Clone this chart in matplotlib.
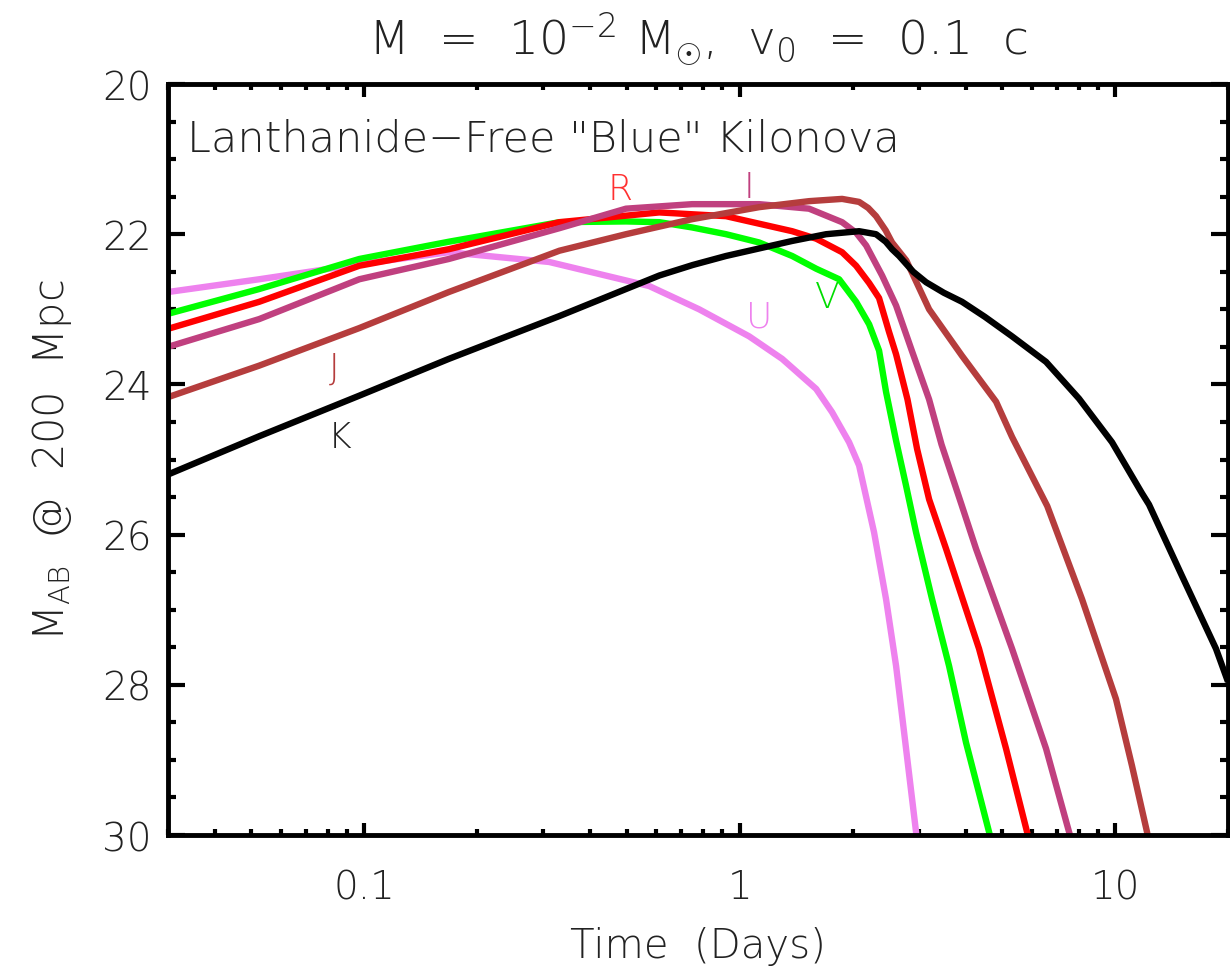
import numpy as np
import matplotlib.pyplot as plt
from matplotlib.ticker import MultipleLocator, LogLocator, NullFormatter

plt.rcParams['font.family'] = ['DejaVu Sans']
plt.rcParams['font.weight'] = 'light'
plt.rcParams['axes.labelweight'] = 'light'
plt.rcParams['axes.titleweight'] = 'light'
plt.rcParams['mathtext.fontset'] = 'custom'
plt.rcParams['mathtext.rm'] = 'DejaVu Sans:light'
plt.rcParams['mathtext.it'] = 'DejaVu Sans:italic:light'
plt.rcParams['mathtext.sf'] = 'DejaVu Sans:light'

# Light curves: time (days), AB magnitude at 200 Mpc
t_U = [0.03, 0.0525, 0.097, 0.168, 0.311, 0.574, 0.78, 1.06, 1.298, 1.599, 1.763,
       1.957, 2.081, 2.173, 2.281, 2.455, 2.611, 2.742, 2.88, 2.951, 3.0]
m_U = [22.77, 22.6, 22.40, 22.24, 22.37, 22.69, 23.0, 23.36, 23.66, 24.06, 24.37,
       24.77, 25.08, 25.5, 25.97, 26.86, 27.75, 28.63, 29.52, 29.96, 30.3]

t_V = [0.03, 0.0525, 0.097, 0.168, 0.331, 0.498, 0.611, 0.747, 0.92, 1.127, 1.38,
       1.60, 1.841, 2.043, 2.213, 2.352, 2.455, 2.611, 2.776, 2.951, 3.256, 3.614,
       4.01, 4.618, 4.8]
m_V = [23.06, 22.73, 22.33, 22.1, 21.84, 21.83, 21.84, 21.91, 22.0, 22.11, 22.29,
       22.46, 22.6, 22.9, 23.2, 23.55, 24.1, 24.75, 25.35, 25.97, 26.86, 27.75,
       28.77, 29.96, 30.3]

t_R = [0.03, 0.0525, 0.097, 0.168, 0.331, 0.611, 0.92, 1.38, 1.60, 1.875, 2.043,
       2.213, 2.352, 2.5, 2.611, 2.8, 2.97, 3.197, 3.548, 4.343, 5.125, 5.83, 6.1]
m_R = [23.26, 22.9, 22.42, 22.2, 21.84, 21.71, 21.76, 21.96, 22.06, 22.24, 22.42,
       22.65, 22.85, 23.3, 23.6, 24.2, 24.86, 25.53, 26.19, 27.52, 28.85, 29.96, 30.3]

t_I = [0.03, 0.0525, 0.097, 0.168, 0.331, 0.498, 0.747, 1.127, 1.531, 1.875, 2.043,
       2.173, 2.396, 2.611, 2.88, 3.197, 3.45, 3.9, 4.264, 5.318, 6.551, 7.544, 7.9]
m_I = [23.50, 23.13, 22.6, 22.33, 21.92, 21.66, 21.6, 21.6, 21.66, 21.84, 21.98,
       22.15, 22.55, 22.95, 23.56, 24.2, 24.8, 25.6, 26.19, 27.52, 28.85, 29.96, 30.3]

t_J = [0.03, 0.0525, 0.097, 0.168, 0.331, 0.498, 0.747, 1.127, 1.531, 1.875, 2.081,
       2.2, 2.309, 2.45, 2.547, 2.78, 3.197, 3.913, 4.821, 5.318, 6.6, 8.169, 10.06,
       11.10, 12.17, 12.5]
m_J = [24.17, 23.75, 23.25, 22.77, 22.22, 22.0, 21.8, 21.64, 21.56, 21.53, 21.57,
       21.65, 21.76, 21.95, 22.11, 22.35, 23.0, 23.62, 24.23, 24.7, 25.62, 26.86,
       28.19, 29.08, 29.96, 30.3]

t_K = [0.03, 0.0525, 0.097, 0.168, 0.331, 0.611, 0.75, 0.92, 1.38, 1.70, 2.081, 2.309,
       2.45, 2.547, 2.66, 2.9, 3.139, 3.5, 3.913, 4.5, 5.318, 6.551, 8.021, 9.818,
       11.8, 12.32, 15.08, 18.58, 20.0]
m_K = [25.2, 24.69, 24.15, 23.66, 23.09, 22.55, 22.41, 22.29, 22.09, 22.0, 21.96, 22.0,
       22.1, 22.2, 22.29, 22.5, 22.64, 22.78, 22.9, 23.1, 23.36, 23.7, 24.19, 24.77,
       25.45, 25.6, 26.55, 27.52, 27.96]

bands = ['U', 'V', 'R', 'I', 'J', 'K']
colors = ['#EE82EE', '#00FF00', '#FF0000', '#C0407F', '#B53D3D', '#000000']
times = [t_U, t_V, t_R, t_I, t_J, t_K]
mags = [m_U, m_V, m_R, m_I, m_J, m_K]

# band label positions (days, mag)
label_t = [1.127, 1.71, 0.48, 1.06, 0.0832, 0.0858]
label_m = [23.10, 22.84, 21.40, 21.37, 23.78, 24.70]
label_colors = ['#EE82EE', '#00DD00', '#FF3030', '#C0407F', '#B53D3D', '#222222']

fig = plt.figure(figsize=(12.3, 9.7), dpi=100)
ax = fig.add_axes([168 / 1230, 1 - 836 / 970, 1060 / 1230, 751 / 970])

for t, m, c in zip(times, mags, colors):
    ax.plot(t, m, color=c, lw=4.6, solid_capstyle='butt', solid_joinstyle='round')

for b, x, y, c in zip(bands, label_t, label_m, label_colors):
    ax.text(x, y, b, color=c, fontsize=26, ha='center', va='center')

ax.set_xscale('log')
ax.set_xlim(0.03, 20)
ax.set_ylim(30, 20)

ax.set_xticks([0.1, 1, 10])
ax.set_xticklabels(['0.1', '1', '10'])
ax.xaxis.set_minor_locator(LogLocator(base=10, subs=np.arange(2, 10)))
ax.xaxis.set_minor_formatter(NullFormatter())
ax.yaxis.set_major_locator(MultipleLocator(2))
ax.yaxis.set_minor_locator(MultipleLocator(0.5))

ax.tick_params(axis='both', which='both', direction='in', top=True, right=True,
               colors='black', labelcolor='#222222', labelsize=28)
ax.tick_params(axis='x', which='major', length=9, width=3, pad=24)
ax.tick_params(axis='x', which='minor', length=4, width=3)
ax.tick_params(axis='y', which='major', length=12, width=3, pad=12)
ax.tick_params(axis='y', which='minor', length=6, width=3)
for s in ax.spines.values():
    s.set_linewidth(3.5)

ax.set_xlabel('Time  (Days)', fontsize=29, color='#222222', labelpad=14)
ax.set_ylabel(r'M$_{\rm AB}$  @  200  Mpc', fontsize=30, color='#222222', labelpad=20)
ax.set_title(r'M  =  10$^{-2}$ M$_{\odot}$,  v$_0$  =  0.1  c', fontsize=34,
             color='#222222', pad=22)

ax.text(0.018, 0.955, 'Lanthanide\u2212Free "Blue" Kilonova', transform=ax.transAxes,
        fontsize=31, color='#222222', ha='left', va='top')

fig.savefig('out.png', dpi=100)
